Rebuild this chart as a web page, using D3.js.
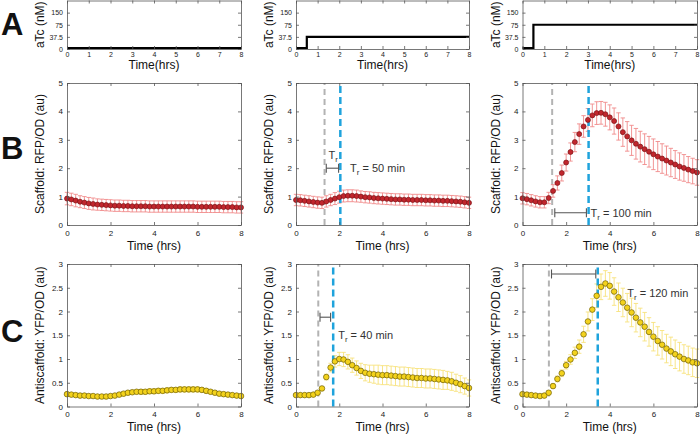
<!DOCTYPE html>
<html><head><meta charset="utf-8">
<script src="https://cdn.jsdelivr.net/npm/d3@7"></script>
<style>
body{margin:0;background:#fff}
svg{display:block}
text{font-family:"Liberation Sans",Arial,Helvetica,sans-serif}
</style>
</head><body>
<svg id="chart" width="700" height="434"></svg>
<script>
// ---------------- DATA ----------------
const timeHrs = [0,0.2,0.4,0.6,0.8,1.0,1.2,1.4,1.6,1.8,2.0,2.2,2.4,2.6,2.8,3.0,3.2,3.4,3.6,3.8,4.0,
  4.2,4.4,4.6,4.8,5.0,5.2,5.4,5.6,5.8,6.0,6.2,6.4,6.6,6.8,7.0,7.2,7.4,7.6,7.8,8.0];

// aTc induction (nM) per column, step at 0.5 h
const atcTickLabels = ["0","37.5","75","150"];
const atcDoses = [0, 37.5, 75];
const atcStepTime = 0.5;
const atcTimeTicks = [0,1,2,3,4,5,6,7,8];

// Scaffold RFP/OD (au)
const scaffold0 = [0.93,0.90,0.86,0.82,0.79,0.76,0.74,0.72,0.71,0.70,0.69,0.68,0.68,0.67,0.67,0.66,0.66,0.66,0.66,0.65,0.65,
  0.65,0.65,0.65,0.65,0.65,0.65,0.65,0.65,0.65,0.64,0.64,0.64,0.64,0.64,0.64,0.63,0.63,0.63,0.62,0.62];
const scaffold0Err = [0.22,0.22,0.22,0.21,0.21,0.21,0.21,0.2,0.2,0.2,0.2,0.2,0.2,0.2,0.2,0.2,0.2,0.2,0.2,0.2,0.2,
  0.2,0.2,0.2,0.2,0.2,0.2,0.2,0.2,0.2,0.2,0.2,0.2,0.2,0.2,0.2,0.2,0.2,0.2,0.2,0.2];
const scaffold1 = [0.88,0.87,0.85,0.83,0.81,0.79,0.78,0.83,0.88,0.93,0.98,1.02,1.03,1.03,1.02,1.00,0.98,0.97,0.95,0.94,0.93,
  0.92,0.91,0.90,0.90,0.89,0.89,0.88,0.88,0.88,0.87,0.87,0.86,0.86,0.85,0.85,0.84,0.83,0.82,0.80,0.78];
const scaffold1Err = [0.2,0.2,0.2,0.2,0.2,0.2,0.2,0.2,0.2,0.21,0.21,0.21,0.21,0.21,0.21,0.2,0.2,0.2,0.2,0.2,0.2,
  0.2,0.2,0.2,0.2,0.2,0.2,0.2,0.2,0.2,0.2,0.2,0.2,0.2,0.2,0.2,0.2,0.2,0.2,0.2,0.2];
const scaffold2 = [0.94,0.91,0.87,0.83,0.80,0.80,0.95,1.20,1.48,1.83,2.20,2.57,2.92,3.20,3.47,3.70,3.86,3.94,3.95,3.90,3.79,
  3.66,3.47,3.27,3.12,2.98,2.86,2.76,2.67,2.58,2.49,2.41,2.34,2.27,2.20,2.13,2.06,2.01,1.95,1.90,1.85];
const scaffold2Err = [0.2,0.2,0.2,0.2,0.2,0.2,0.2,0.22,0.25,0.28,0.3,0.32,0.34,0.36,0.38,0.4,0.4,0.4,0.4,0.42,0.44,
  0.46,0.48,0.5,0.52,0.53,0.54,0.54,0.54,0.54,0.54,0.53,0.52,0.51,0.5,0.49,0.48,0.47,0.46,0.45,0.45];

// Antiscaffold YFP/OD (au)
const anti0 = [0.26,0.25,0.24,0.23,0.23,0.22,0.22,0.21,0.21,0.21,0.22,0.23,0.25,0.27,0.29,0.30,0.31,0.31,0.31,0.32,0.32,
  0.33,0.33,0.34,0.35,0.35,0.36,0.36,0.36,0.36,0.36,0.35,0.33,0.31,0.29,0.27,0.26,0.25,0.24,0.23,0.22];
const anti0Err = [0.03,0.03,0.03,0.03,0.03,0.03,0.03,0.03,0.03,0.03,0.03,0.03,0.04,0.04,0.04,0.04,0.04,0.05,0.05,0.05,0.05,
  0.05,0.05,0.05,0.05,0.05,0.05,0.05,0.05,0.05,0.05,0.05,0.05,0.04,0.04,0.04,0.04,0.03,0.03,0.03,0.03];
const anti1 = [0.24,0.24,0.24,0.24,0.25,0.29,0.38,0.62,0.82,0.95,1.00,0.99,0.94,0.87,0.81,0.75,0.71,0.69,0.68,0.67,0.66,
  0.66,0.65,0.64,0.63,0.63,0.62,0.61,0.60,0.60,0.59,0.59,0.58,0.57,0.56,0.55,0.53,0.50,0.47,0.43,0.39];
const anti1Err = [0.02,0.02,0.02,0.02,0.02,0.03,0.04,0.06,0.09,0.12,0.14,0.15,0.15,0.15,0.15,0.16,0.17,0.18,0.19,0.2,0.2,
  0.2,0.2,0.2,0.2,0.2,0.2,0.2,0.2,0.2,0.2,0.2,0.2,0.2,0.2,0.19,0.19,0.18,0.18,0.17,0.17];
const anti2 = [0.26,0.25,0.24,0.23,0.22,0.23,0.29,0.43,0.58,0.70,0.87,0.99,1.13,1.26,1.52,1.79,2.04,2.33,2.52,2.59,2.54,
  2.42,2.30,2.19,2.08,1.98,1.87,1.77,1.68,1.57,1.47,1.38,1.30,1.22,1.16,1.10,1.05,1.00,0.97,0.93,0.91];
const anti2Err = [0.02,0.02,0.02,0.02,0.02,0.03,0.04,0.05,0.06,0.07,0.08,0.1,0.12,0.14,0.17,0.2,0.23,0.25,0.27,0.27,0.28,
  0.29,0.3,0.3,0.3,0.3,0.3,0.3,0.3,0.3,0.3,0.3,0.3,0.3,0.3,0.3,0.3,0.3,0.3,0.3,0.3];

const responseTicksX = [0,2,4,6,8];
const scaffoldTicksY = [0,1,2,3,4,5];
const antiTicksY = [0,0.5,1,1.5,2,2.5,3];

// Response-time annotations
const scaffoldDelay = [null,
  {gray:1.32, blue:2.05, b0:1.40, b1:1.97, by:2.0, lx:2.5, ly:2.0, min:50, top:true},
  {gray:1.36, blue:3.03, b0:1.48, b1:2.93, by:0.43, lx:3.12, ly:0.43, min:100}];
const antiDelay = [null,
  {gray:1.03, blue:1.72, b0:1.11, b1:1.60, by:1.88, lx:1.95, ly:1.5, min:40},
  {gray:1.21, blue:3.45, b0:1.33, b1:3.36, by:2.79, lx:4.8, ly:2.4, min:120}];

// ---------------- LAYOUT ----------------
const svg = d3.select("#chart");
const cols = [[67,241],[296,469],[522.5,697]];
const rowA = [0.5,49], rowB = [83,225], rowC = [264,406.5];
const axisColor = "#555";

function styleAxis(g){
  g.selectAll(".domain").attr("stroke", axisColor).attr("stroke-width",0.8);
  g.selectAll(".tick line").attr("stroke", axisColor).attr("stroke-width",0.8);
  g.selectAll(".tick text").attr("fill","#222");
}

function frame(x, y, xt, yt, opts){
  const g = svg.append("g");
  const [x0,x1] = x.range(); const [y0,y1] = y.range(); // y0 bottom, y1 top
  const fs = opts.fs;
  const bx = g.append("g").attr("transform",`translate(0,${y0})`)
    .call(d3.axisBottom(x).tickValues(xt).tickSizeInner(-3).tickSizeOuter(0).tickPadding(opts.xpad).tickFormat(d3.format("")));
  bx.selectAll("text").attr("font-size",fs);
  styleAxis(bx);
  const tx = g.append("g").attr("transform",`translate(0,${y1})`)
    .call(d3.axisTop(x).tickValues(xt).tickSizeInner(-3).tickSizeOuter(0).tickFormat(""));
  styleAxis(tx);
  const ly = g.append("g").attr("transform",`translate(${x0},0)`)
    .call(d3.axisLeft(y).tickValues(yt).tickSizeInner(-3).tickSizeOuter(0).tickPadding(4).tickFormat(opts.yfmt));
  ly.selectAll("text").attr("font-size",fs);
  styleAxis(ly);
  const ry = g.append("g").attr("transform",`translate(${x1},0)`)
    .call(d3.axisRight(y).tickValues(yt).tickSizeInner(-3).tickSizeOuter(0).tickFormat(""));
  styleAxis(ry);
  g.append("text").attr("x",(x0+x1)/2).attr("y",opts.xlabY).attr("text-anchor","middle")
    .attr("font-size",12).attr("fill","#111").text(opts.xlab);
  const cy = (y0+y1)/2, cx = x0-27;
  g.append("text").attr("transform",`translate(${cx},${cy}) rotate(-90)`).attr("text-anchor","middle")
    .attr("dominant-baseline","central").attr("font-size",12).attr("fill","#111").text(opts.ylab);
  return g;
}

// ---------- Row A: aTc ----------
atcDoses.forEach((dose,i)=>{
  const x = d3.scaleLinear().domain([0,8]).range(cols[i]);
  const y = d3.scaleLinear().domain([0,4]).range([rowA[1],rowA[0]]);
  const g = svg.append("g");
  const lvl = atcTickLabels.indexOf(String(dose));
  const pts = [[0,0],[atcStepTime,lvl],[8,lvl]];
  g.append("path").datum(pts).attr("fill","none").attr("stroke","#000").attr("stroke-width",2.2)
    .attr("d", d3.line().x(d=>x(d[0])).y(d=>y(d[1])-(d[1]===0?1:0)).curve(d3.curveStepAfter));
  frame(x,y,atcTimeTicks,[0,1,2,3],{fs:7,xpad:3,yfmt:d=>atcTickLabels[d],xlab:"Time(hrs)",xlabY:69,ylab:"aTc (nM)"});
});

// ---------- Rows B, C ----------
function responsePanel(ci, row, domY, vals, errs, delay, colors, r){
  const x = d3.scaleLinear().domain([0,8]).range(cols[ci]);
  const y = d3.scaleLinear().domain(domY).range([row[1],row[0]]);
  const g = svg.append("g");
  const data = timeHrs.map((t,i)=>({t, v:vals[i], e:errs[i]}));
  if(delay){
    g.append("line").attr("x1",x(delay.gray)).attr("x2",x(delay.gray)).attr("y1",y(domY[0])).attr("y2",y(domY[1]))
      .attr("stroke","#b3b3b3").attr("stroke-width",2).attr("stroke-dasharray","6,4");
  }
  const eb = g.append("g").attr("stroke",colors.err).attr("stroke-width",0.9);
  data.forEach(d=>{
    const cx = x(d.t), yt = y(d.v+d.e), yb = y(d.v-d.e);
    eb.append("line").attr("x1",cx).attr("x2",cx).attr("y1",yt).attr("y2",yb);
    eb.append("line").attr("x1",cx-2.2).attr("x2",cx+2.2).attr("y1",yt).attr("y2",yt);
    eb.append("line").attr("x1",cx-2.2).attr("x2",cx+2.2).attr("y1",yb).attr("y2",yb);
  });
  if(delay){
    g.append("line").attr("x1",x(delay.blue)).attr("x2",x(delay.blue)).attr("y1",y(domY[0])).attr("y2",y(domY[1]))
      .attr("stroke","#1fa3dc").attr("stroke-width",2.5).attr("stroke-dasharray","7,4");
  }
  g.selectAll("circle.m").data(data).join("circle").attr("class","m")
    .attr("cx",d=>x(d.t)).attr("cy",d=>y(d.v)).attr("r",r)
    .attr("fill",colors.fill).attr("stroke",colors.stroke).attr("stroke-width",0.7);
  if(delay){
    const by = y(delay.by), a = x(delay.b0), b = x(delay.b1);
    const br = g.append("g").attr("stroke","#555").attr("stroke-width",1.1);
    br.append("line").attr("x1",a).attr("x2",b).attr("y1",by).attr("y2",by);
    br.append("line").attr("x1",a).attr("x2",a).attr("y1",by-4.5).attr("y2",by+4.5);
    br.append("line").attr("x1",b).attr("x2",b).attr("y1",by-4.5).attr("y2",by+4.5);
    const lt = g.append("text").attr("x",x(delay.lx)).attr("y",y(delay.ly)+4).attr("font-size",11).attr("fill","#333");
    lt.append("tspan").text("T");
    lt.append("tspan").attr("font-size",8).attr("dy",3).text("r");
    lt.append("tspan").attr("dy",-3).text(" = " + delay.min + " min");
    if(delay.top){
      const tt = g.append("text").attr("x",(a+b)/2-4).attr("y",by-9).attr("font-size",11).attr("fill","#333");
      tt.append("tspan").text("T");
      tt.append("tspan").attr("font-size",8).attr("dy",3).text("r");
    }
  }
  return {x,y};
}

const red = {fill:"#c1262d", stroke:"#7d1216", err:"#f08a8a"};
const yel = {fill:"#f3d21c", stroke:"#6e5f05", err:"#f7e27c"};
const scaffoldSets = [[scaffold0,scaffold0Err],[scaffold1,scaffold1Err],[scaffold2,scaffold2Err]];
const antiSets = [[anti0,anti0Err],[anti1,anti1Err],[anti2,anti2Err]];

scaffoldSets.forEach((s,i)=>{
  const {x,y} = responsePanel(i,rowB,[0,5],s[0],s[1],scaffoldDelay[i],red,2.5);
  frame(x,y,responseTicksX,scaffoldTicksY,{fs:8,xpad:5,yfmt:d3.format(""),xlab:"Time (hrs)",xlabY:250,ylab:"Scaffold: RFP/OD (au)"});
});
antiSets.forEach((s,i)=>{
  const {x,y} = responsePanel(i,rowC,[0,3],s[0],s[1],antiDelay[i],yel,2.8);
  frame(x,y,responseTicksX,antiTicksY,{fs:8,xpad:5,yfmt:d3.format(""),xlab:"Time (hrs)",xlabY:431,ylab:"Antiscaffold: YFP/OD (au)"});
});

// Panel letters
[["A",24],["B",148],["C",331]].forEach(([t,cy])=>{
  svg.append("text").attr("x",1).attr("y",cy+11).attr("font-size",31).attr("font-weight","bold")
    .attr("fill","#111").text(t);
});
</script>
</body></html>
